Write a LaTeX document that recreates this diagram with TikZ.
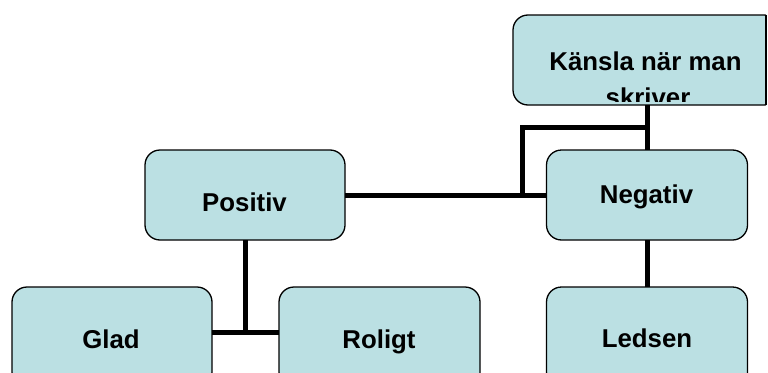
\documentclass[tikz,border=0pt]{standalone}
\usepackage{fontspec}
\setmainfont{Liberation Sans}
\definecolor{boxfill}{RGB}{187,224,227}
\tikzset{
  box/.style={draw=black, line width=1.3pt, fill=boxfill, rounded corners=15pt,
              inner sep=0pt, outer sep=0pt},
  lbl/.style={anchor=base, inner sep=0pt, font=\fontsize{25.8}{30}\selectfont\bfseries},
  conn/.style={line width=5pt, draw=black}
}
\begin{document}
\begin{tikzpicture}[x=1pt,y=-1pt]
\useasboundingbox (0,0) rectangle (768,372);
\clip (0,0) rectangle (768,372);

% top box (cut off at the right edge)
\begin{scope}
  \clip (0,0) rectangle (766,372);
  \node[box, minimum width=266pt, minimum height=90pt] (top) at (646,60) {};
\end{scope}
\draw[line width=1.3pt] (766,15) -- (766,105);
\begin{scope}
  \clip (513,15) rectangle (766,101);
  \node[lbl] (topA) at (645.5,70) {Känsla när man};
  \node[lbl] (topB) at (648,106.5) {skriver};
\end{scope}

% second level
\node[box, minimum width=200pt, minimum height=90pt] (pos) at (245,195) {};
\node[lbl] (posT) at (244.5,211.7) {Positiv};
\node[box, minimum width=201pt, minimum height=90pt] (neg) at (647,195) {};
\node[lbl] (negT) at (646.5,203) {Negativ};

% third level
\node[box, minimum width=200pt, minimum height=100pt] (glad) at (112,337) {};
\node[lbl] (gladT) at (111,348) {Glad};
\node[box, minimum width=201pt, minimum height=100pt] (rol) at (379.5,337) {};
\node[lbl] (rolT) at (379,348.3) {Roligt};
\node[box, minimum width=201pt, minimum height=100pt] (led) at (647,337) {};
\node[lbl] (ledT) at (647,347.3) {Ledsen};

% connectors
\coordinate (elb) at (522,127);
\coordinate (pj) at (245.5,332);
\draw[conn] (pos.east) -- (neg.west |- pos.east);
\draw[conn] (top.south -| neg.north) -- (neg.north);
\draw[conn] (neg.north |- elb) -- (elb) -- (elb |- pos.east);
\draw[conn] (neg.south) -- (led.north);
\draw[conn] (pos.south -| pj) -- (pj);
\draw[conn] (glad.east |- pj) -- (rol.west |- pj);
\end{tikzpicture}
\end{document}
